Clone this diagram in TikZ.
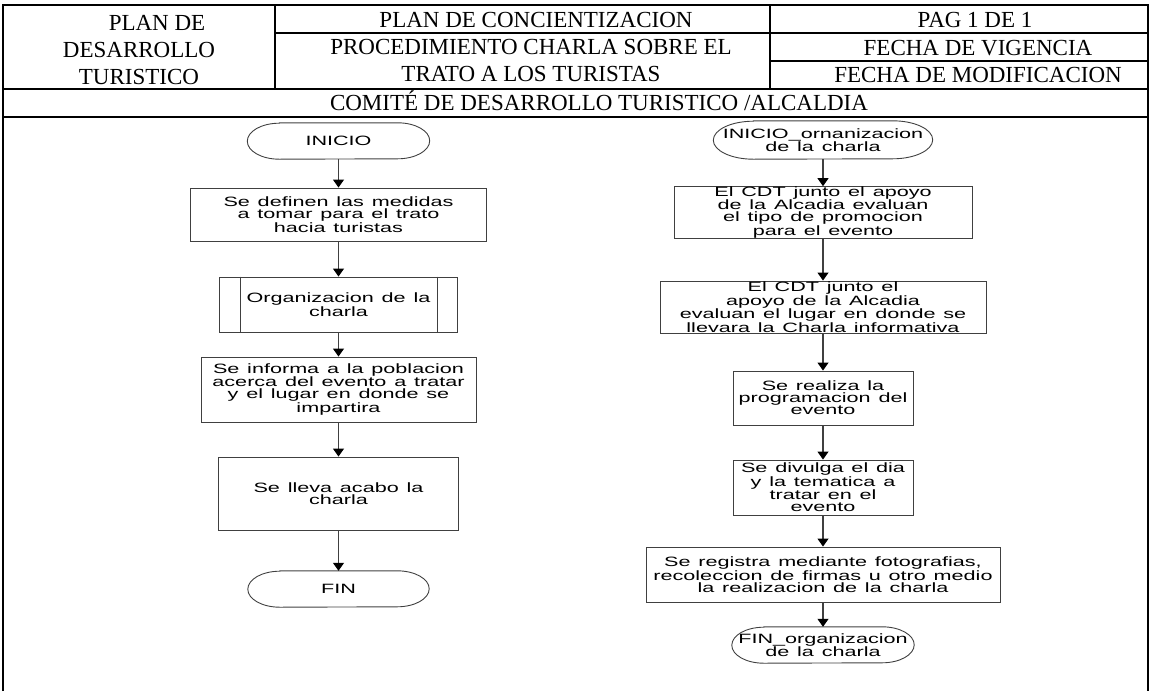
\documentclass[tikz,border=0pt]{standalone}
\usepackage{fontspec}
\setmainfont{Liberation Serif}
\newfontfamily\chartfont[FakeStretch=1.6,WordSpace=1.3]{Liberation Sans}
\usetikzlibrary{arrows.meta,positioning}
\definecolor{lineg}{HTML}{404040}

\newcommand{\drawterm}[3]{%
  \draw[termline] ([xshift=#2]#1.north west) -- ([xshift=-#2]#1.north east)
    arc[start angle=90,end angle=-90,x radius=#2,y radius=#3]
    -- ([xshift=#2]#1.south west)
    arc[start angle=270,end angle=90,x radius=#2,y radius=#3] -- cycle;}

\begin{document}
\begin{tikzpicture}[x=1pt,y=-1pt,
  hdr/.style={font=\fontsize{23}{27}\selectfont,align=center,inner sep=0pt},
  frame/.style={line width=2.2pt},
  stepbox/.style={draw=lineg,line width=0.9pt,font=\chartfont\fontsize{13.5}{12}\selectfont,align=center,inner sep=0pt},
  termtext/.style={font=\chartfont\fontsize{13.5}{12}\selectfont,align=center,inner sep=0pt},
  termline/.style={draw=lineg,line width=0.9pt},
  flow/.style={draw=lineg,line width=1.1pt,-{Triangle[width=11pt,length=8pt,color=black]}}]
  \useasboundingbox (0,0) rectangle (1150,691);
  \draw[frame] (3,691) -- (3,5) -- (1148,5) -- (1148,691);
  \draw[frame] (3,89) -- (1148,89);
  \draw[frame] (3,117) -- (1148,117);
  \draw[frame] (275,5) -- (275,89);
  \draw[frame] (770,5) -- (770,89);
  \draw[frame] (275,33) -- (1148,33);
  \draw[frame] (770,61) -- (1148,61);

  \node[hdr] (plan) at (139,50.1) {\hspace*{36pt}PLAN DE\\DESARROLLO\\TURISTICO};
  \node[hdr,anchor=base] (conc) at (536,27) {PLAN DE CONCIENTIZACION};
  \node[hdr] (proc) at (531,60.9) {PROCEDIMIENTO CHARLA SOBRE EL\\TRATO A LOS TURISTAS};
  \node[hdr,anchor=base] (pag) at (975,27) {PAG 1 DE 1};
  \node[hdr,anchor=base] (vig) at (978,55) {FECHA DE VIGENCIA};
  \node[hdr,anchor=base] (modif) at (978,82.5) {FECHA DE MODIFICACION};
  \node[hdr,anchor=base] (comite) at (599,110) {COMITÉ DE DESARROLLO TURISTICO /ALCALDIA};

  \node[termtext,minimum width=182pt,minimum height=36pt] (ini) at (338.5,141) {INICIO};
  \drawterm{ini}{32pt}{18pt}
  \node[stepbox,minimum width=296pt,minimum height=53pt] (medidas) at (338.5,214.5)
    {Se definen las medidas\\a tomar para el trato\\hacia turistas};
  \node[stepbox,minimum width=238pt,minimum height=55pt] (orgcharla) at (338.5,304.5)
    {Organizacion de la\\charla};
  \draw[termline] ([xshift=21pt]orgcharla.north west) -- ([xshift=21pt]orgcharla.south west)
    ([xshift=-21pt]orgcharla.north east) -- ([xshift=-21pt]orgcharla.south east);
  \node[stepbox,minimum width=275pt,minimum height=65pt] (informa) at (338.5,389.5)
    {Se informa a la poblacion\\acerca del evento a tratar\\y el lugar en donde se\\impartira};
  \node[stepbox,minimum width=240pt,minimum height=73pt] (lleva) at (338.5,493.5)
    {Se lleva acabo la\\charla};
  \node[termtext,minimum width=181pt,minimum height=36pt] (fin) at (338.5,589) {FIN};
  \drawterm{fin}{32pt}{18pt}

  \draw[flow] (ini) -- (medidas);
  \draw[flow] (medidas) -- (orgcharla);
  \draw[flow] (orgcharla) -- (informa);
  \draw[flow] (informa) -- (lleva);
  \draw[flow] (lleva) -- (fin);

  \node[termtext,minimum width=219pt,minimum height=38pt] (iniorg) at (823,140)
    {INICIO\_ornanizacion\\de la charla};
  \drawterm{iniorg}{40pt}{19pt}
  \node[stepbox,minimum width=298pt,minimum height=45pt] (promo) at (823,212.5)
    {El CDT junto el apoyo\\de la Alcadia evaluan\\el tipo de promocion\\para el evento};
  \node[stepbox,minimum width=326pt,minimum height=52pt] (lugar) at (823,307)
    {El CDT junto el\\apoyo de la Alcadia\\evaluan el lugar en donde se\\llevara la Charla informativa};
  \node[stepbox,minimum width=180pt,minimum height=54pt] (progr) at (823,398)
    {Se realiza la\\programacion del\\evento};
  \node[stepbox,minimum width=180pt,minimum height=55pt] (divulga) at (823,487.5)
    {Se divulga el dia\\y la tematica a\\tratar en el\\evento};
  \node[stepbox,minimum width=354pt,minimum height=55pt] (registro) at (823,574.5)
    {Se registra mediante fotografias,\\recoleccion de firmas u otro medio\\la realizacion de la charla};
  \node[termtext,minimum width=182pt,minimum height=36pt] (finorg) at (823,645)
    {FIN\_organizacion\\de la charla};
  \drawterm{finorg}{32pt}{18pt}

  \draw[flow] (iniorg) -- (promo);
  \draw[flow] (promo) -- (lugar);
  \draw[flow] (lugar) -- (progr);
  \draw[flow] (progr) -- (divulga);
  \draw[flow] (divulga) -- (registro);
  \draw[flow] (registro) -- (finorg);
\end{tikzpicture}
\end{document}
